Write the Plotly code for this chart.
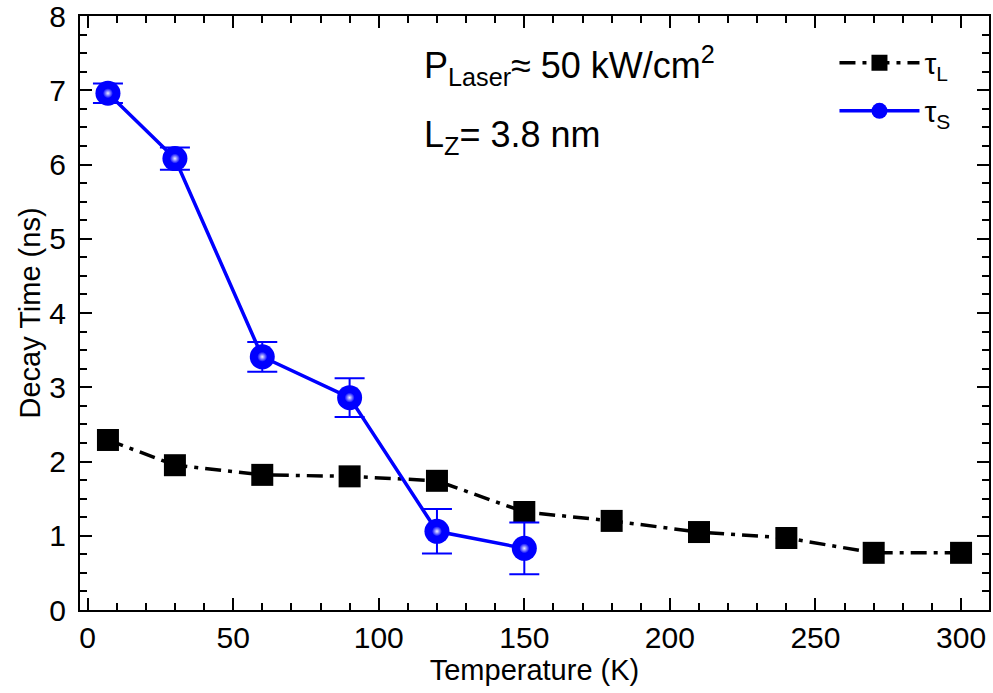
import plotly.graph_objects as go

temp_L = [7, 30, 60, 90, 120, 150, 180, 210, 240, 270, 300]
tau_L = [2.29, 1.95, 1.82, 1.80, 1.74, 1.32, 1.20, 1.05, 0.97, 0.77, 0.77]

temp_S = [7, 30, 60, 90, 120, 150]
tau_S = [6.96, 6.08, 3.41, 2.86, 1.06, 0.83]
err_S = [0.13, 0.15, 0.20, 0.26, 0.30, 0.35]

x_ticks = [0, 50, 100, 150, 200, 250, 300]
y_ticks = [0, 1, 2, 3, 4, 5, 6, 7, 8]

FONT = "Liberation Sans, Arial, sans-serif"
BLUE = "#0000ff"

fig = go.Figure()
fig.add_trace(go.Scatter(
    x=temp_L, y=tau_L, name="τ<sub>L</sub>", mode="lines+markers", legendgroup="L",
    line=dict(color="black", width=3.5, dash="16px,7px,4px,7px"),
    marker=dict(symbol="square", size=22, color="black"),
))
fig.add_trace(go.Scatter(
    x=temp_S, y=tau_S, name="τ<sub>S</sub>", mode="lines+markers", legendgroup="S",
    line=dict(color=BLUE, width=3.5),
    marker=dict(symbol="circle", size=25, color=BLUE),
    error_y=dict(type="data", array=err_S, color=BLUE, thickness=2, width=15),
))
fig.add_trace(go.Scatter(
    x=temp_S, y=tau_S, mode="markers", showlegend=False, hoverinfo="skip",
    marker=dict(symbol="circle", size=10, color=BLUE,
                gradient=dict(type="radial", color="#eeeeff"), line=dict(width=0)),
))

axis_common = dict(
    showline=True, linecolor="black", linewidth=2, mirror="allticks",
    ticks="inside", ticklen=12, tickwidth=2, tickcolor="black",
    showgrid=False, zeroline=False, ticklabeloverflow="allow", automargin=False,
    tickfont=dict(family=FONT, size=30, color="black"),
)
fig.update_xaxes(
    range=[-2.6, 309.6], tickvals=x_ticks,
    minor=dict(ticks="inside", ticklen=7, tickwidth=2, tickcolor="black", dtick=10),
    title=dict(text="Temperature (K)", font=dict(family=FONT, size=29, color="black"), standoff=4),
    **axis_common,
)
fig.update_yaxes(
    range=[0, 8.0001], tickvals=y_ticks, ticklabelstandoff=6,
    minor=dict(ticks="inside", ticklen=7, tickwidth=2, tickcolor="black", dtick=0.25),
    title=dict(text="Decay Time (ns)", font=dict(family=FONT, size=29, color="black"), standoff=0),
    **axis_common,
)

fig.add_annotation(
    xref="paper", yref="paper", x=0.376, y=0.916, xanchor="left", yanchor="middle",
    text="P<sub>Laser</sub>≈ 50 kW/cm<sup>2</sup>", showarrow=False,
    font=dict(family=FONT, size=36, color="black"),
)
fig.add_annotation(
    xref="paper", yref="paper", x=0.376, y=0.796, xanchor="left", yanchor="middle",
    text="L<sub>Z</sub>= 3.8 nm", showarrow=False,
    font=dict(family=FONT, size=36, color="black"),
)

fig.update_layout(
    width=993, height=693,
    margin=dict(l=80, r=4, t=16, b=83),
    plot_bgcolor="white", paper_bgcolor="white",
    legend=dict(x=0.83, y=0.965, xanchor="left", yanchor="top",
                font=dict(family=FONT, size=30, color="black"),
                itemwidth=80, bgcolor="rgba(0,0,0,0)", tracegroupgap=6),
    font=dict(family=FONT),
)

fig.write_html("out.html")
